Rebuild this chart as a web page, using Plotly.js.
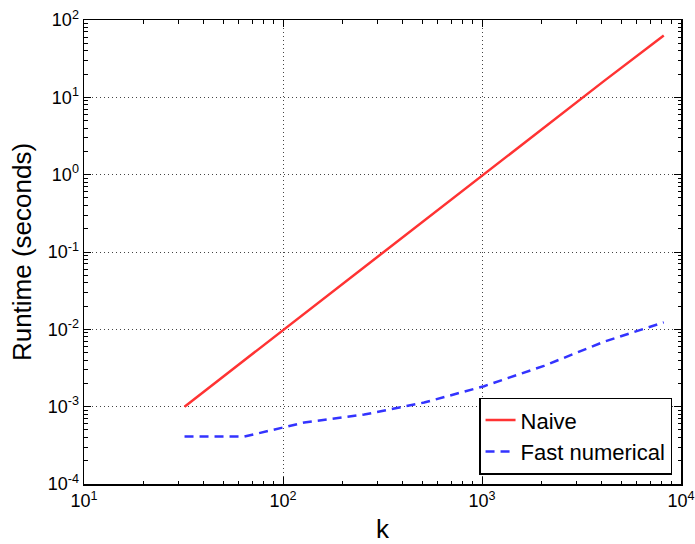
<!DOCTYPE html>
<html>
<head>
<meta charset="utf-8">
<script src="https://cdn.plot.ly/plotly-3.0.1.min.js"></script>
<style>html,body{margin:0;padding:0;background:#fff;}#chart{width:695px;height:544px;}</style>
</head>
<body>
<div id="chart"></div>
<script>
const kValues = [32, 64, 128, 256, 512, 1024, 2048, 4096, 8192];
const naiveRuntime = [0.001, 0.004, 0.016, 0.064, 0.256, 1.02, 4.1, 16.2, 63];
const fastRuntime = [0.00041, 0.00041, 0.000625, 0.00079, 0.00113, 0.00184, 0.00337, 0.0069, 0.0123];
const xTickVals = [10, 100, 1000, 10000];
const xTickText = ['10<sup>1</sup>', '10<sup>2</sup>', '10<sup>3</sup>', '10<sup>4</sup>'];
const yTickVals = [1e-4, 1e-3, 1e-2, 1e-1, 1, 10, 100];
const yTickText = ['10<sup>-4</sup>', '10<sup>-3</sup>', '10<sup>-2</sup>', '10<sup>-1</sup>', '10<sup>0</sup>', '10<sup>1</sup>', '10<sup>2</sup>'];

const traces = [
  {x: kValues, y: naiveRuntime, name: 'Naive', mode: 'lines', type: 'scatter',
   line: {color: '#ff3333', width: 2.5}},
  {x: kValues, y: fastRuntime, name: 'Fast numerical', mode: 'lines', type: 'scatter',
   line: {color: '#3333ff', width: 2.5, dash: '9px,6px'}}
];

const axisCommon = {
  type: 'log',
  showline: true, linecolor: '#000', linewidth: 1.5, mirror: 'allticks',
  ticks: 'inside', ticklen: 7, tickwidth: 1, tickcolor: '#000',
  showgrid: true, gridcolor: '#444', griddash: '1px,3px', gridwidth: 1,
  zeroline: false,
  tickmode: 'array',
  tickfont: {family: 'Liberation Sans, Arial, sans-serif', size: 18, color: '#000'},
  minor: {ticks: 'inside', ticklen: 3.5, tickwidth: 1, tickcolor: '#000', dtick: 'D1', showgrid: false}
};

const layout = {
  width: 695, height: 544,
  margin: {l: 84, r: 14, t: 20, b: 60},
  paper_bgcolor: '#fff', plot_bgcolor: '#fff',
  showlegend: true,
  font: {family: 'Liberation Sans, Arial, sans-serif', color: '#000'},
  xaxis: Object.assign({}, axisCommon, {
    range: [1, 4], tickvals: xTickVals, ticktext: xTickText,
    title: {text: 'k', font: {size: 26}, standoff: 10}
  }),
  yaxis: Object.assign({}, axisCommon, {
    range: [-4, 2], tickvals: yTickVals, ticktext: yTickText,
    title: {text: 'Runtime (seconds)', font: {size: 26}, standoff: 8}
  }),
  legend: {
    x: 0.985, y: 0.02, xanchor: 'right', yanchor: 'bottom',
    bgcolor: '#fff', bordercolor: '#000', borderwidth: 1.5,
    font: {size: 22, color: '#000'}, tracegroupgap: 0
  }
};

Plotly.newPlot('chart', traces, layout, {displayModeBar: false, staticPlot: true});
</script>
</body>
</html>
